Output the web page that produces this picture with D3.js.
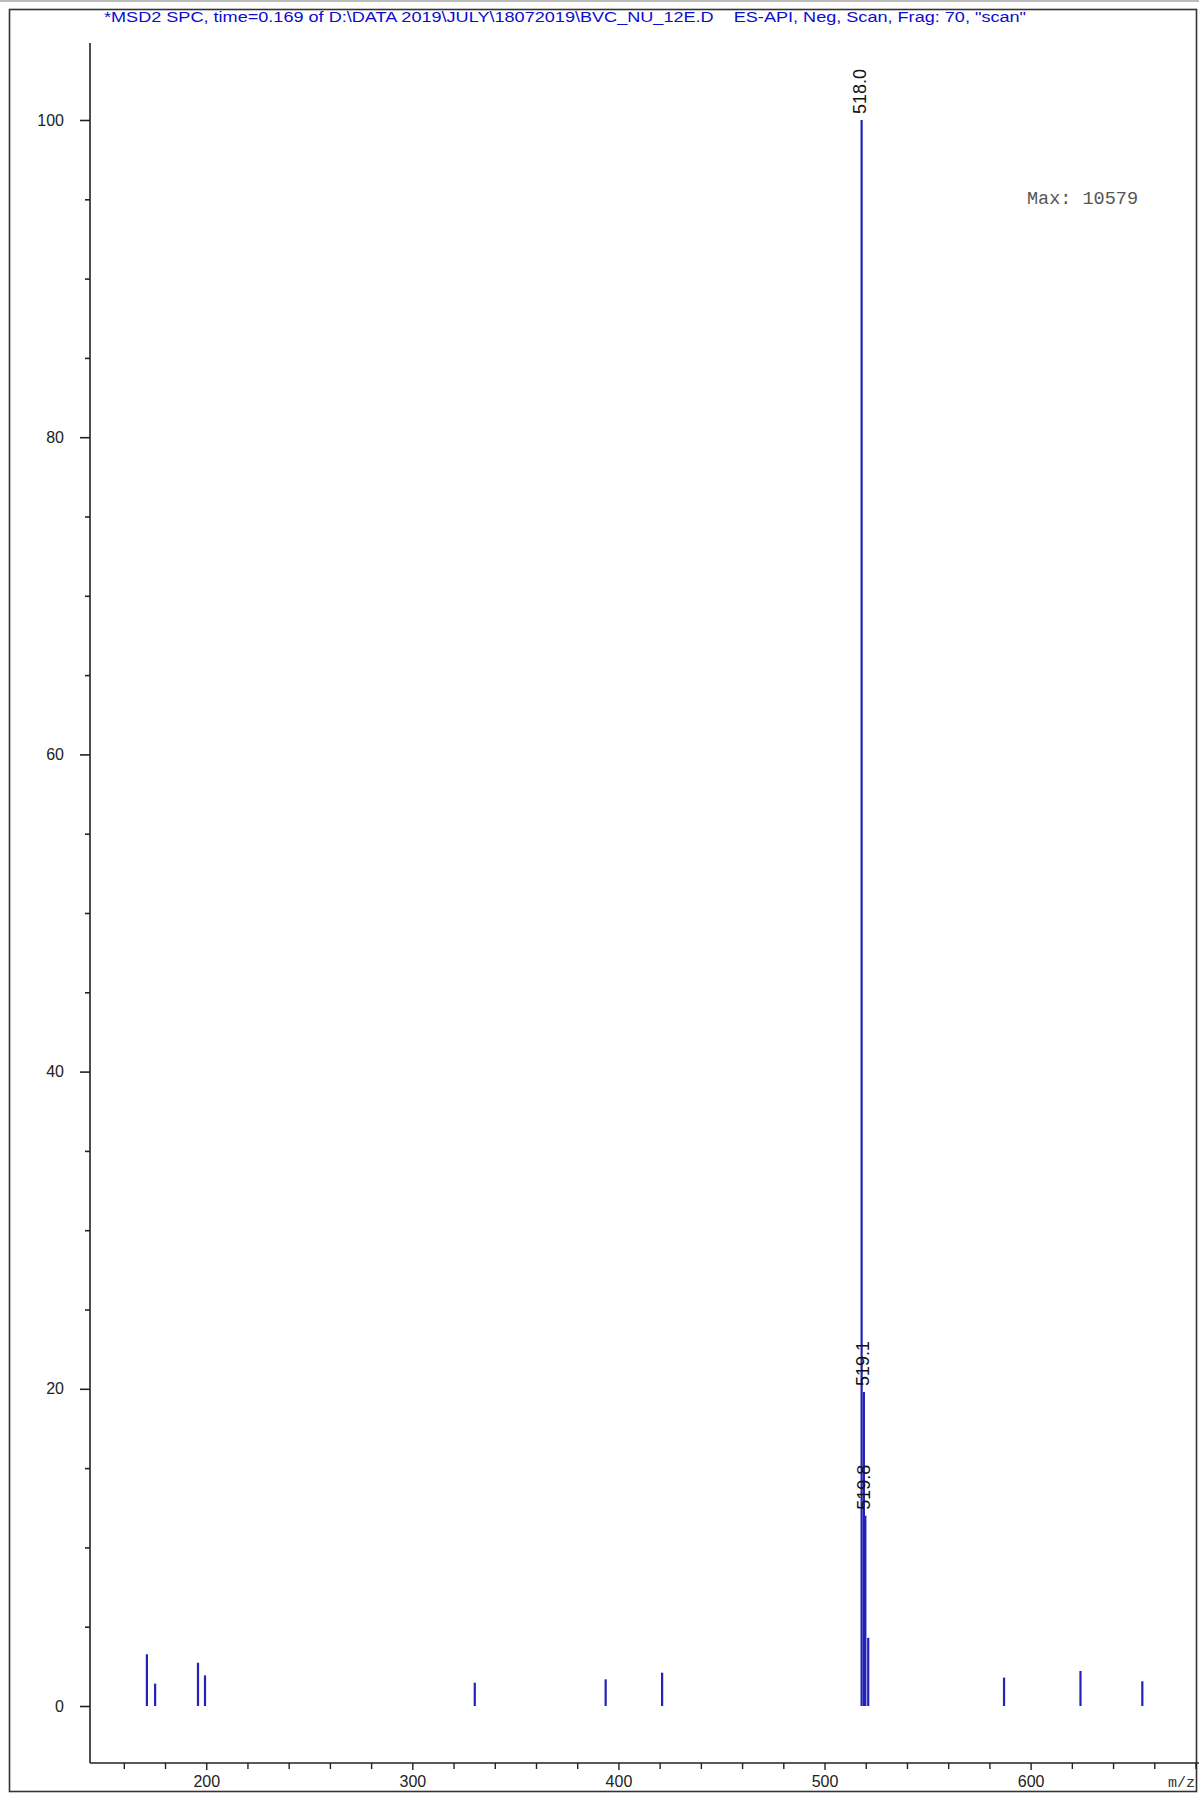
<!DOCTYPE html>
<html>
<head>
<meta charset="utf-8">
<script src="https://cdn.jsdelivr.net/npm/d3@7/dist/d3.min.js"></script>
<style>
  html, body { margin: 0; padding: 0; background: #fff; }
  svg { display: block; }
</style>
</head>
<body>
<script>
// ---- data ----
const titleText = '*MSD2 SPC, time=0.169 of D:\\DATA 2019\\JULY\\18072019\\BVC_NU_12E.D    ES-API, Neg, Scan, Frag: 70, "scan"';
const maxText = "Max: 10579";
const mz = [171.2, 175.2, 196.0, 199.4, 330.3, 393.8, 421.2, 518.0, 519.1, 519.8, 521.2, 587.1, 624.2, 654.2];
const abundance = [3.26, 1.41, 2.73, 1.93, 1.47, 1.68, 2.10, 100, 19.8, 12.0, 4.3, 1.79, 2.21, 1.56];
const labeledMz = [518.0, 519.1, 519.8];
const yMajorTicks = [0, 20, 40, 60, 80, 100];
const yMinorTicks = [5, 10, 15, 25, 30, 35, 45, 50, 55, 65, 70, 75, 85, 90, 95];
const xMajorTicks = [200, 300, 400, 500, 600];
const xMinorTicks = [160, 180, 220, 240, 260, 280, 320, 340, 360, 380, 420, 440, 460, 480, 520, 540, 560, 580, 620, 640, 660, 680];
const xUnit = "m/z";

// ---- layout ----
const W = 1199, H = 1794;
const svg = d3.select("body").append("svg").attr("width", W).attr("height", H);

const axisX = 90, axisBottomY = 1763, axisTopY = 43;
const x = d3.scaleLinear().domain([143.6, 681.7]).range([axisX, 1199]);
const y = d3.scaleLinear().domain([0, 100]).range([1706, 120]);

// frame
svg.append("line").attr("x1", 0).attr("x2", W).attr("y1", 1).attr("y2", 1)
  .attr("stroke", "#bbb").attr("stroke-width", 2);
svg.append("rect").attr("x", 9.5).attr("y", 9.5).attr("width", 1187).attr("height", 1782)
  .attr("fill", "none").attr("stroke", "#333").attr("stroke-width", 1.6);

// title
svg.append("text").attr("x", 104).attr("y", 22)
  .attr("font-family", "'Liberation Sans Narrow', 'Arial Narrow', 'Liberation Sans', Arial, sans-serif")
  .attr("font-size", 15.5).attr("fill", "#0c0cd0")
  .attr("textLength", 922).attr("lengthAdjust", "spacingAndGlyphs")
  .style("white-space", "pre")
  .text(titleText);

const font = "'Liberation Sans', Arial, sans-serif";

// y axis
const gY = svg.append("g").attr("transform", `translate(${axisX},0)`);
gY.call(d3.axisLeft(y).tickValues(yMajorTicks).tickSize(10).tickPadding(16).tickFormat(d3.format("d")));
gY.append("g").call(d3.axisLeft(y).tickValues(yMinorTicks).tickSize(5).tickFormat(""));
gY.selectAll(".domain").remove();
gY.append("line").attr("x1", 0).attr("x2", 0).attr("y1", axisTopY).attr("y2", axisBottomY)
  .attr("stroke", "#222").attr("stroke-width", 1.6);
gY.selectAll(".tick line").attr("stroke", "#222").attr("stroke-width", 1.6);
gY.selectAll(".tick text").attr("font-family", font).attr("font-size", 16).attr("fill", "#222");

// x axis
const gX = svg.append("g").attr("transform", `translate(0,${axisBottomY})`);
gX.call(d3.axisBottom(x).tickValues(xMajorTicks).tickSize(7).tickPadding(6).tickFormat(d3.format("d")));
gX.append("g").call(d3.axisBottom(x).tickValues(xMinorTicks).tickSize(6).tickFormat(""));
gX.selectAll(".domain").remove();
gX.append("line").attr("x1", axisX).attr("x2", W).attr("y1", 0).attr("y2", 0)
  .attr("stroke", "#222").attr("stroke-width", 1.6);
gX.selectAll(".tick line").attr("stroke", "#222").attr("stroke-width", 1.4);
gX.selectAll(".tick text").attr("font-family", font).attr("font-size", 16).attr("fill", "#222");

svg.append("text").attr("x", 1168).attr("y", 1787)
  .attr("font-family", "'Liberation Mono', 'Courier New', monospace")
  .attr("font-size", 15).attr("fill", "#333").text(xUnit);

// peaks
const peaks = mz.map((m, i) => ({ m, a: abundance[i] }));
svg.append("g").selectAll("line").data(peaks).join("line")
  .attr("x1", d => x(d.m)).attr("x2", d => x(d.m))
  .attr("y1", y(0)).attr("y2", d => y(d.a))
  .attr("stroke", "#2222b8").attr("stroke-width", 2.2);

// peak labels
const labeled = peaks.filter(d => labeledMz.includes(d.m));
svg.append("g").selectAll("text").data(labeled).join("text")
  .attr("transform", d => `translate(${x(d.m)},${y(d.a) - 6}) rotate(-90)`)
  .attr("dominant-baseline", "middle")
  .attr("font-family", font).attr("font-size", 18).attr("fill", "#111")
  .text(d => d.m.toFixed(1));

// max label
svg.append("text").attr("x", 1027).attr("y", 204)
  .attr("font-family", "'Liberation Mono', 'Courier New', monospace")
  .attr("font-size", 18.5).attr("fill", "#555")
  .style("white-space", "pre")
  .text(maxText);
</script>
</body>
</html>
